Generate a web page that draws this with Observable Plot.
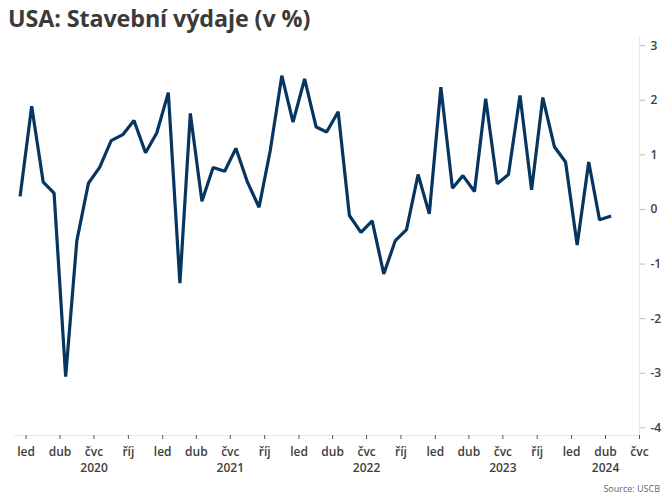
<!DOCTYPE html>
<html><head><meta charset="utf-8">
<script src="https://cdn.jsdelivr.net/npm/d3@7"></script>
<script src="https://cdn.jsdelivr.net/npm/@observablehq/plot@0.6"></script>
<style>
body{margin:0;background:#fff;font-family:"Open Sans",sans-serif;}
#wrap{position:relative;width:670px;height:502px;overflow:hidden;}
#title{position:absolute;left:8px;top:2px;font-size:23.3px;font-weight:700;color:#3a3a3a;letter-spacing:-0.1px;}
#src{position:absolute;right:10px;top:482px;font-size:9px;color:#666;}
#chart{position:absolute;left:0;top:36px;}
#chart svg text{font-weight:600;}
</style></head><body>
<div id="wrap">
<div id="title">USA: Stavební výdaje (v %)</div>
<div id="chart"></div>
<div id="src">Source: USCB</div>
</div>
<script>
// monthly change, Dec 2019 .. Apr 2024
const startYear = 2019, startMonth = 11;
const values = [
  0.24,
  1.89, 0.50, 0.30, -3.06, -0.57, 0.48, 0.77, 1.26, 1.37, 1.63, 1.04, 1.40,
  2.14, -1.35, 1.76, 0.15, 0.77, 0.70, 1.12, 0.50, 0.04, 1.08, 2.45, 1.60,
  2.39, 1.51, 1.42, 1.79, -0.11, -0.42, -0.21, -1.18, -0.57, -0.37, 0.64, -0.08,
  2.24, 0.39, 0.62, 0.33, 2.03, 0.47, 0.64, 2.09, 0.36, 2.05, 1.15, 0.87,
  -0.65, 0.87, -0.19, -0.12
];
const monthNames = ["led","úno","bře","dub","kvě","čvn","čvc","srp","zář","říj","lis","pro"];
const tickMonths = [0, 3, 6, 9];
const tickYears = [2020, 2021, 2022, 2023, 2024];
const yTicks = [-4, -3, -2, -1, 0, 1, 2, 3];
const yDomain = [-4.14, 3.15];
const xDomain = [new Date(Date.UTC(2019, 11, 1)), new Date(Date.UTC(2024, 6, 1))];

const data = values.map((v, i) => ({
  date: new Date(Date.UTC(startYear, startMonth + i, 16)),
  value: v
}));
const xTicks = [];
const yearLabelTick = new Map();
for (const y of tickYears) {
  const inYear = [];
  for (const m of tickMonths) {
    const d = new Date(Date.UTC(y, m, 1));
    if (d <= xDomain[1]) { xTicks.push(d); inYear.push(+d); }
  }
  yearLabelTick.set(inYear[Math.floor(inYear.length / 2)], y);
}
const fmt = d => {
  const name = monthNames[d.getUTCMonth()];
  return yearLabelTick.has(+d) ? name + "\n" + yearLabelTick.get(+d) : name;
};

const chart = Plot.plot({
  width: 670,
  height: 466,
  marginLeft: 14,
  marginRight: 31,
  marginTop: 1,
  marginBottom: 67,
  style: {fontFamily: "'Open Sans', sans-serif", fontSize: "12px", color: "#404040", background: "#fff"},
  x: {type: "utc", domain: xDomain},
  y: {domain: yDomain},
  marks: [
    Plot.ruleY([yDomain[0]], {stroke: "#e8e8e8", strokeWidth: 1}),
    Plot.ruleX([xDomain[1]], {stroke: "#e8e8e8", strokeWidth: 1}),
    Plot.axisX({ticks: xTicks, tickFormat: fmt, tickSize: 4, tickPadding: 5, stroke: "#555", fill: "#404040", lineHeight: 1.35, fontSize: 12, label: null}),
    Plot.axisY({anchor: "right", ticks: yTicks, tickSize: 5, tickPadding: 6, stroke: "#bbb", fill: "#404040", fontSize: 12, label: null, tickFormat: d => String(d).replace("−","-")}),
    Plot.line(data, {x: "date", y: "value", stroke: "#06355f", strokeWidth: 3.2, strokeLinejoin: "miter", strokeLinecap: "butt"})
  ]
});
document.getElementById("chart").appendChild(chart);
</script>
</body></html>
